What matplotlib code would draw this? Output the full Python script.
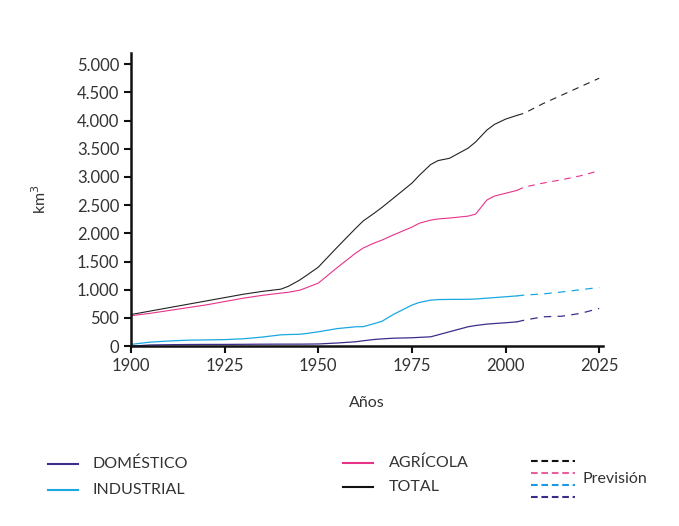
import matplotlib.pyplot as plt
from matplotlib.lines import Line2D

plt.rcParams['font.family'] = ['Lato', 'DejaVu Sans']

# observed (solid) part
years = [1900, 1905, 1910, 1915, 1920, 1925, 1930, 1935, 1940, 1942, 1945, 1947,
         1950, 1955, 1960, 1962, 1965, 1967, 1970, 1975, 1977, 1980, 1982, 1985,
         1990, 1992, 1995, 1997, 2000, 2003]
total = [560, 620, 680, 740, 800, 860, 920, 970, 1010, 1060, 1170, 1260,
         1400, 1750, 2090, 2220, 2360, 2460, 2620, 2890, 3030, 3220, 3290, 3330,
         3510, 3620, 3830, 3930, 4025, 4090]
agricola = [540, 580, 630, 680, 730, 790, 850, 900, 940, 955, 990, 1040,
            1117, 1390, 1650, 1740, 1830, 1880, 1970, 2110, 2180, 2234, 2255, 2270,
            2305, 2340, 2590, 2660, 2710, 2760]
industrial = [30, 70, 90, 105, 110, 115, 130, 160, 200, 205, 210, 225,
              254, 310, 343, 345, 400, 440, 560, 727, 775, 815, 825, 828,
              830, 835, 850, 860, 875, 890]
domestico = [0, 20, 25, 28, 30, 30, 32, 34, 35, 35, 35, 36,
             38, 55, 77, 95, 118, 128, 140, 148, 155, 165, 200, 254,
             343, 365, 390, 400, 414, 430]

# forecast (dashed) part
years_p = [2003, 2005, 2010, 2015, 2020, 2025]
total_p = [4090, 4130, 4300, 4450, 4600, 4750]
agricola_p = [2760, 2820, 2890, 2950, 3020, 3110]
industrial_p = [890, 905, 925, 960, 1000, 1040]
domestico_p = [430, 460, 520, 530, 580, 668]

col_dom = '#3b2d8c'
col_ind = '#19a8e2'
col_agr = '#e8328a'
col_tot = '#222222'
txt = '#333333'

fig = plt.figure(figsize=(6.79, 5.26), dpi=100)
ax = fig.add_axes([0.193, 0.342, 0.695, 0.557])

ax.plot(years, total, color=col_tot, lw=0.8)
ax.plot(years, agricola, color=col_agr, lw=0.8)
ax.plot(years, industrial, color=col_ind, lw=0.9)
ax.plot(years, domestico, color=col_dom, lw=0.9)
ax.plot(years_p, total_p, color=col_tot, lw=0.8, ls=(0, (6, 5)))
ax.plot(years_p, agricola_p, color=col_agr, lw=0.8, ls=(0, (6, 5)))
ax.plot(years_p, industrial_p, color=col_ind, lw=0.9, ls=(0, (6, 5)))
ax.plot(years_p, domestico_p, color=col_dom, lw=0.9, ls=(0, (6, 5)))

ax.set_xlim(1900, 2026)
ax.set_ylim(0, 5195)
ax.set_xticks([1900, 1925, 1950, 1975, 2000, 2025])
yt = list(range(0, 5001, 500))
ax.set_yticks(yt)
ax.set_yticklabels([f'{v:,}'.replace(',', '.') for v in yt])
for s in ['top', 'right']:
    ax.spines[s].set_visible(False)
for s in ['left', 'bottom']:
    ax.spines[s].set_linewidth(1.8)
    ax.spines[s].set_color('#111111')
ax.tick_params(direction='out', length=5, width=1.5, colors='#111111',
               labelsize=12, labelcolor=txt)
ax.set_ylabel('km$^3$', fontsize=11.5, color=txt, labelpad=20)
ax.set_xlabel('Años', fontsize=11.5, color=txt, labelpad=16)

# legend
W, H = 679, 526
def fl(x0, x1, y, c, ls='-'):
    fig.add_artist(Line2D([x0 / W, x1 / W], [1 - y / H, 1 - y / H], color=c,
                          lw=1.5, ls=ls, transform=fig.transFigure))
def ft(x, y, s):
    fig.text(x / W, 1 - y / H, s, fontsize=11.5, color=txt, va='center')

fl(48, 78, 464, col_dom); ft(92, 464, 'DOMÉSTICO')
fl(48, 78, 490, col_ind); ft(92, 490, 'INDUSTRIAL')
fl(343, 373, 463, col_agr); ft(389, 463, 'AGRÍCOLA')
fl(343, 373, 487, '#111111'); ft(389, 487, 'TOTAL')
dash = (0, (3.2, 1.8))
fl(531, 575, 461, '#111111', dash)
fl(531, 575, 473, '#e5609c', dash)
fl(531, 575, 485, '#1a9be0', dash)
fl(531, 575, 497, '#3a2a8a', dash)
ft(582, 479, 'Previsión')

fig.savefig('out.png', dpi=100)
